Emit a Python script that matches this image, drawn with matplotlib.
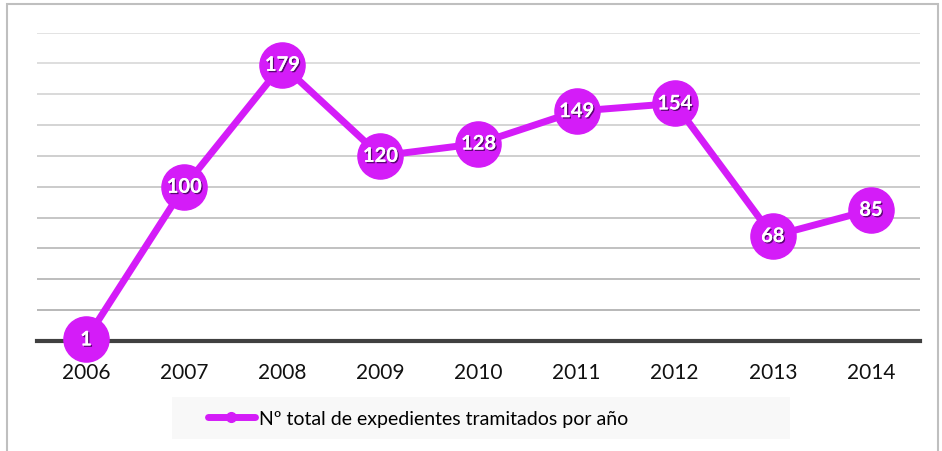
import matplotlib.pyplot as plt
import matplotlib.patheffects as pe
from matplotlib.patches import Rectangle

# Data
years = ["2006", "2007", "2008", "2009", "2010", "2011", "2012", "2013", "2014"]
expedientes = [1, 100, 179, 120, 128, 149, 154, 68, 85]
series_label = "Nº total de expedientes tramitados por año"

line_color = "#D41CF8"
W, H = 942, 452

plt.rcParams["font.family"] = ["Lato", "DejaVu Sans"]

fig = plt.figure(figsize=(W / 100, H / 100), dpi=100)
ax = fig.add_axes([37 / W, 1 - 342 / H, (920 - 37) / W, (342 - 33.5) / H])

# outer frame of the chart
fig.patches.append(Rectangle((7 / W, -0.05), (938 - 7) / W, 1.05 - 5 / H,
                             transform=fig.transFigure, facecolor="none",
                             edgecolor="#bfbfbf", linewidth=1.5, zorder=0))

x = list(range(len(years)))
ax.plot(x, expedientes, color=line_color, linewidth=5, marker="o",
        markersize=32.5, markerfacecolor=line_color, markeredgecolor=line_color,
        label=series_label, zorder=3, clip_on=False)

shadow = [pe.withSimplePatchShadow(offset=(1, -1), shadow_rgbFace="#3a0050", alpha=0.8),
          pe.Normal()]
for xi, v in zip(x, expedientes):
    ax.text(xi, v, str(v), ha="center", va="center", color="white",
            fontsize=14.5, fontweight="bold", zorder=4, path_effects=shadow)

ax.set_xlim(-0.5, len(years) - 0.5)
ax.set_ylim(0, 200)
ax.set_xticks(x)
ax.set_xticklabels(years, fontsize=15, color="#111111")
ax.set_yticks([])
ax.tick_params(axis="x", length=0, pad=15)

grid_vals = list(range(20, 201, 20))
for g in grid_vals:
    shade = 0.67 + 0.20 * (g - 20) / 180
    ax.axhline(g, color=(shade, shade, shade), linewidth=1.2, zorder=1)

for side in ("top", "right", "left"):
    ax.spines[side].set_visible(False)
ax.spines["bottom"].set_color("#404040")
ax.spines["bottom"].set_linewidth(3)
ax.spines["bottom"].set_zorder(2)

# legend box
fig.patches.append(Rectangle((172 / W, 1 - 440 / H), (790 - 172) / W, 42 / H,
                             transform=fig.transFigure, facecolor="#f8f8f8",
                             edgecolor="none", zorder=0))
leg_handle = plt.Line2D([], [], color=line_color, linewidth=5, marker="o",
                        markersize=7, solid_capstyle="round")
fig.legend([leg_handle], [series_label], loc="center",
           bbox_to_anchor=(418 / W, 1 - 419 / H), frameon=False,
           fontsize=14, handlelength=2.4, handletextpad=0.2)

fig.savefig("out.png", dpi=100)
